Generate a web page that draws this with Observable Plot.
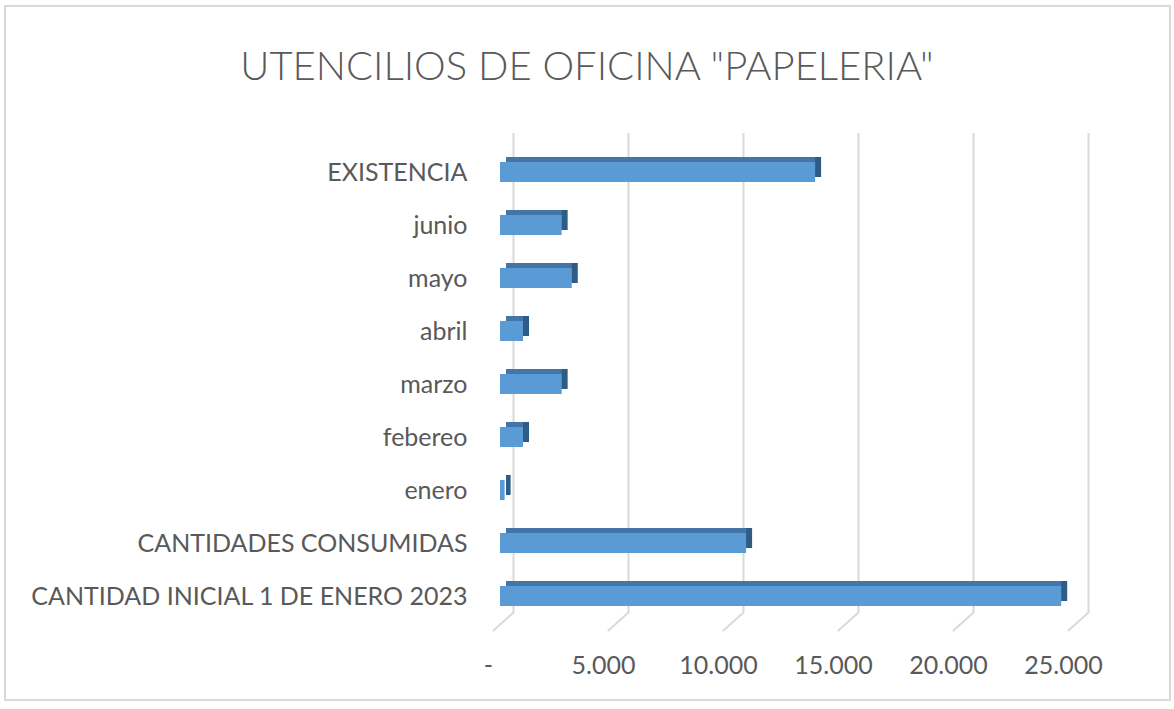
<!DOCTYPE html>
<html><head><meta charset="utf-8">
<script src="https://cdn.jsdelivr.net/npm/d3@7"></script>
<script src="https://cdn.jsdelivr.net/npm/@observablehq/plot@0.6"></script>
<style>
body{margin:0;background:#fff;}
#wrap{position:relative;width:1174px;height:709px;overflow:hidden;font-family:Lato,"Open Sans",sans-serif;}
#border{position:absolute;left:4px;top:5px;width:1163px;height:692px;border:2px solid #d9d9d9;}
#title{position:absolute;left:0;top:38px;width:1174px;text-align:center;font-size:40px;line-height:54px;color:#595959;font-weight:300;}
#chart{position:absolute;left:0;top:100px;}
</style></head><body>
<div id="wrap"><div id="border"></div><div id="title">UTENCILIOS DE OFICINA "PAPELERIA"</div><div id="chart"></div></div>
<script>
const categories = ["EXISTENCIA","junio","mayo","abril","marzo","febereo","enero","CANTIDADES CONSUMIDAS","CANTIDAD INICIAL 1 DE ENERO 2023"];
const values = [13700, 2680, 3120, 1000, 2680, 1000, 200, 10700, 24400];
const xTicks = [0, 5000, 10000, 15000, 20000, 25000];

const data = categories.map((c, i) => ({cat: c, value: values[i]}));
const fmt = d => d === 0 ? "-" : d3.format(",")(d).replace(/,/g, ".");
const lineShape = {draw(context, l) { context.moveTo(0, 0); context.lineTo(0, -l); }};

const chart = Plot.plot({
  width: 1174, height: 600,
  marginLeft: 500, marginRight: 99, marginTop: 27, marginBottom: 60,
  style: {fontFamily: "Lato, 'Open Sans', sans-serif", fontSize: "25px", color: "#595959", background: "transparent"},
  x: {domain: [0, 25000], axis: null},
  y: {domain: categories, paddingInner: 0.625, paddingOuter: 0.625, tickSize: 0, tickPadding: 33, label: null},
  marks: [
    Plot.ruleX(xTicks, {x: d => d, dx: 13, insetTop: 6, insetBottom: 28, stroke: "#d9d9d9", strokeWidth: 2}),
    Plot.vector(xTicks, {x: d => d, frameAnchor: "bottom", dx: 13, dy: -28, length: 27, rotate: 228, anchor: "start", shape: lineShape, stroke: "#d9d9d9", strokeWidth: 2}),
    Plot.barX(data, {y: "cat", x: "value", fill: "#2f5b87", dx: 6, dy: -5}),
    Plot.barX(data, {y: "cat", x: "value", fill: "#4475a8", dx: 6, dy: -5, insetRight: 6}),
    Plot.barX(data, {y: "cat", x: "value", fill: "#5b9bd5"}),
    Plot.text(xTicks, {x: d => d, text: fmt, frameAnchor: "bottom", dy: 33, dx: -12, fill: "#595959", fontSize: 25})
  ]
});
document.getElementById("chart").appendChild(chart);
</script>
</body></html>
